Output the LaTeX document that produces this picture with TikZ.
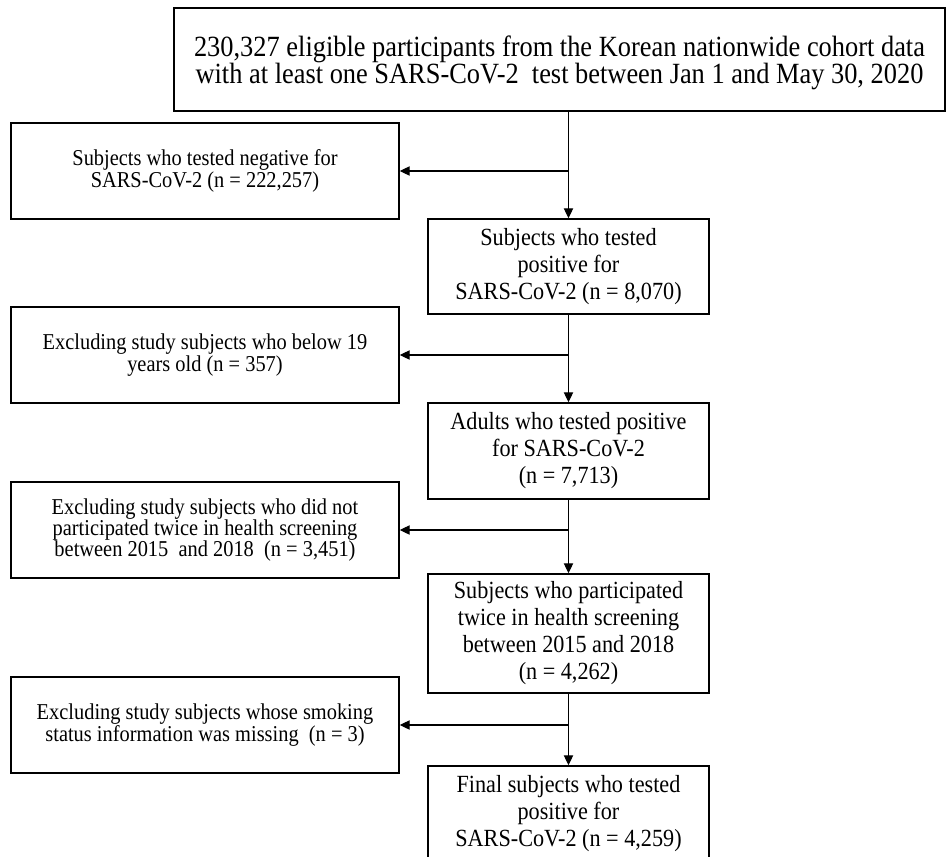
\documentclass[tikz,border=0pt]{standalone}
\usepackage{fontspec}
\setmainfont[FakeStretch=0.9]{Liberation Serif}
\usetikzlibrary{arrows.meta}
\begin{document}
\begin{tikzpicture}[x=0.75pt,y=-0.75pt,
  box/.style={draw=black, line width=1.1pt, inner sep=0pt, align=center, text=black},
  side/.style={box, minimum width=291pt, minimum height=72pt, font=\fontsize{17pt}{16pt}\selectfont},
  mainbox/.style={box, minimum width=210.75pt, font=\fontsize{18.5pt}{20.25pt}\selectfont},
  topbox/.style={box, minimum width=578.25pt, minimum height=77.25pt},
  toptext/.style={inner sep=0pt, align=center, text=black, font=\fontsize{22pt}{20.5pt}\selectfont},
  arr/.style={-{Triangle[length=7.5pt,width=7pt]}, line width=0.85pt}]
\useasboundingbox (0,0) rectangle (947,857);
\clip (0,0) rectangle (947,857);
\node[topbox] (top) at (559.5,59.5) {};
\node[toptext] (toplabel) at (559.5,63) {230,327 eligible participants from the Korean nationwide cohort data\\with at least one SARS-CoV-2\ \ test between Jan 1 and May 30, 2020};
\node[side] (neg) at (205,171) {Subjects who tested negative for\\SARS-CoV-2 (n = 222,257)};
\node[mainbox, minimum height=71.25pt] (pos) at (568.5,266.5) {Subjects who tested\\positive for\\SARS-CoV-2 (n = 8,070)};
\node[side] (young) at (205,355) {Excluding study subjects who below 19\\years old (n = 357)};
\node[mainbox, minimum height=72pt] (adult) at (568.5,451) {Adults who tested positive\\for SARS-CoV-2\\(n = 7,713)};
\node[side] (twice) at (205,530) {Excluding study subjects who did not\\participated twice in health screening\\between 2015\ \ and 2018\ \ (n = 3,451)};
\node[mainbox, minimum height=89.25pt] (part) at (568.5,633.5) {Subjects who participated\\twice in health screening\\between 2015 and 2018\\(n = 4,262)};
\node[side] (smoke) at (205,725) {Excluding study subjects whose smoking\\status information was missing\ \ (n = 3)};
\node[mainbox, minimum height=72pt] (final) at (568.5,814) {Final subjects who tested\\positive for\\SARS-CoV-2 (n = 4,259)};
\draw[arr] (top.south -| pos.north) -- (pos.north);
\draw[arr] (neg.east -| pos.north) -- (neg.east);
\draw[arr] (pos.south) -- (adult.north);
\draw[arr] (young.east -| pos.south) -- (young.east);
\draw[arr] (adult.south) -- (part.north);
\draw[arr] (twice.east -| adult.south) -- (twice.east);
\draw[arr] (part.south) -- (final.north);
\draw[arr] (smoke.east -| part.south) -- (smoke.east);
\end{tikzpicture}
\end{document}
